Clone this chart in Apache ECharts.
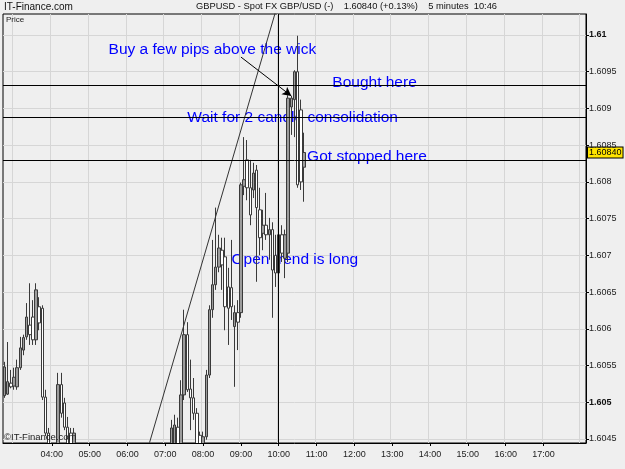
<!DOCTYPE html>
<html>
<head>
<meta charset="utf-8">
<title>GBPUSD 5 minutes</title>
<script src="https://cdn.jsdelivr.net/npm/echarts@6/dist/echarts.min.js"></script>
<style>
    html, body { margin: 0; padding: 0; background: #efefef; }
    #chart { width: 625px; height: 469px; }
</style>
</head>
<body>
<div id="chart"></div>
<script>
// 5 minute bars shown on the axis
const firstBar = '02:45', lastBar = '18:05';

// hour labels printed under the chart
const hourLabels = ['04:00', '05:00', '06:00', '07:00', '08:00', '09:00', '10:00',
    '11:00', '12:00', '13:00', '14:00', '15:00', '16:00', '17:00'];

// price ticks on the right, the bold ones are the round numbers
const priceTicks = ['1.6045', '1.605', '1.6055', '1.606', '1.6065', '1.607',
    '1.6075', '1.608', '1.6085', '1.609', '1.6095', '1.61'];
const boldTicks = ['1.605', '1.61'];
const priceMin = 1.604445, priceMax = 1.610286;

// [open, close, low, high] - early session, starts 02:45
const morningStart = '02:45';
const morningBars = [
    [1.60509, 1.60548, 1.60506, 1.60555],
    [1.60511, 1.60528, 1.60510, 1.60582],
    [1.60526, 1.60521, 1.60519, 1.60544],
    [1.60522, 1.60534, 1.60517, 1.60547],
    [1.60521, 1.60547, 1.60517, 1.60558],
    [1.60547, 1.60574, 1.60544, 1.60589],
    [1.60571, 1.60588, 1.60564, 1.60592],
    [1.60589, 1.60616, 1.60585, 1.60635],
    [1.60605, 1.60592, 1.60578, 1.60662],
    [1.60616, 1.60585, 1.60578, 1.60639],
    [1.60585, 1.60653, 1.60578, 1.60662],
    [1.60630, 1.60608, 1.60598, 1.60643],
    [1.60628, 1.60507, 1.60503, 1.60632],
    [1.60507, 1.60458, 1.60454, 1.60517],
    [1.60458, 1.60421, 1.60408, 1.60465],
    [1.60421, 1.60394, 1.60381, 1.60435],
    [1.60394, 1.60421, 1.60381, 1.60439],
    [1.60421, 1.60524, 1.60415, 1.60540],
    [1.60524, 1.60485, 1.60479, 1.60540],
    [1.60499, 1.60466, 1.60462, 1.60506],
    [1.60466, 1.60428, 1.60421, 1.60480],
    [1.60458, 1.60421, 1.60415, 1.60465],
    [1.60421, 1.60458, 1.60415, 1.60465]
];

// [open, close, low, high] - london open, starts 07:10
const sessionStart = '07:10';
const sessionBars = [
    [1.60408, 1.60465, 1.60394, 1.60476],
    [1.60408, 1.60469, 1.60394, 1.60483],
    [1.60466, 1.60428, 1.60415, 1.60479],
    [1.60428, 1.60510, 1.60421, 1.60530],
    [1.60510, 1.60592, 1.60503, 1.60626],
    [1.60592, 1.60517, 1.60514, 1.60609],
    [1.60518, 1.60506, 1.60462, 1.60558],
    [1.60506, 1.60485, 1.60476, 1.60533],
    [1.60485, 1.60428, 1.60415, 1.60492],
    [1.60455, 1.60435, 1.60421, 1.60460],
    [1.60428, 1.60453, 1.60421, 1.60460],
    [1.60453, 1.60537, 1.60449, 1.60544],
    [1.60537, 1.60626, 1.60533, 1.60632],
    [1.60626, 1.60660, 1.60615, 1.60721],
    [1.60660, 1.60684, 1.60653, 1.60765],
    [1.60684, 1.60710, 1.60677, 1.60728],
    [1.60707, 1.60687, 1.60653, 1.60724],
    [1.60698, 1.60630, 1.60598, 1.60724],
    [1.60657, 1.60628, 1.60578, 1.60683],
    [1.60656, 1.60630, 1.60612, 1.60721],
    [1.60603, 1.60622, 1.60521, 1.60632],
    [1.60622, 1.60609, 1.60571, 1.60639],
    [1.60622, 1.60796, 1.60615, 1.60799],
    [1.60794, 1.60803, 1.60782, 1.60861],
    [1.60830, 1.60792, 1.60775, 1.60857],
    [1.60792, 1.60755, 1.60741, 1.60830],
    [1.60789, 1.60812, 1.60778, 1.60826],
    [1.60816, 1.60765, 1.60664, 1.60823],
    [1.60762, 1.60724, 1.60700, 1.60792],
    [1.60730, 1.60741, 1.60707, 1.60762],
    [1.60741, 1.60728, 1.60721, 1.60785],
    [1.60728, 1.60735, 1.60694, 1.60751],
    [1.60735, 1.60680, 1.60615, 1.60745],
    [1.60700, 1.60676, 1.60657, 1.60728],
    [1.60676, 1.60728, 1.60666, 1.60737],
    [1.60728, 1.60703, 1.60691, 1.60741],
    [1.60696, 1.60728, 1.60669, 1.60735],
    [1.60703, 1.60914, 1.60691, 1.60918],
    [1.60902, 1.60914, 1.60864, 1.60917],
    [1.60912, 1.60950, 1.60861, 1.60952],
    [1.60950, 1.60796, 1.60792, 1.60999],
    [1.60898, 1.60800, 1.60789, 1.60912],
    [1.60820, 1.60840, 1.60773, 1.60867]
];

// drawn on the chart by hand
const levelLines = [1.60931, 1.60888, 1.60830];
const entryTime = '10:00';
const trendFrom = ['06:35', 1.60445], trendTo = ['09:55', 1.61032];
const arrowFrom = ['09:00', 1.60970], arrowTo = ['10:20', 1.60917];
const lastPrice = 1.60840;

const noteTexts = ['Buy a few pips above the wick', 'Bought here', 'Wait for 2 candle consolidation',
    'Got stopped here', 'Open trend is long'];
const noteTimes = ['05:30', '11:25', '07:35', '10:45', '08:45'];
const notePrices = [1.60980, 1.60935, 1.60887, 1.60834, 1.60694];

const sans = '"Liberation Sans", Arial, sans-serif';
const bg = '#efefef';

function buildTimes(from, to) {
    const out = [];
    let [h, m] = from.split(':').map(Number);
    const [eh, em] = to.split(':').map(Number);
    while (h < eh || (h === eh && m <= em)) {
        out.push(String(h).padStart(2, '0') + ':' + String(m).padStart(2, '0'));
        m += 5;
        if (m >= 60) { m -= 60; h++; }
    }
    return out;
}

const times = buildTimes(firstBar, lastBar);

function toRows(bars, start) {
    const i0 = times.indexOf(start);
    return bars.map((b, k) => [times[i0 + k]].concat(b));
}
const barRows = toRows(morningBars, morningStart).concat(toRows(sessionBars, sessionStart));

const chart = echarts.init(document.getElementById('chart'));
const gridBox = { left: 3, right: 39, top: 14, bottom: 26 };
const isHourLabel = (i, v) => hourLabels.includes(v);

const option = {
    backgroundColor: bg,
    animation: false,
    title: [
        { text: 'IT-Finance.com', left: 4, top: 2, padding: 0,
            textStyle: { fontSize: 10, fontWeight: 'normal', color: '#111', fontFamily: sans } },
        { text: 'GBPUSD - Spot FX GBP/USD (-)    1.60840 (+0.13%)    5 minutes  10:46', left: 196, top: 2, padding: 0,
            textStyle: { fontSize: 9.3, fontWeight: 'normal', color: '#111', fontFamily: sans } },
        { text: 'Price', left: 6, top: 16, padding: 0,
            textStyle: { fontSize: 8, fontWeight: 'normal', color: '#222', fontFamily: sans } },
        { text: '©IT-Finance.com', left: 4, top: 432, padding: 0, z: 20,
            textStyle: { fontSize: 9.5, fontWeight: 'normal', color: '#222', fontFamily: sans } }
    ],
    grid: Object.assign({ show: true, borderColor: '#000', borderWidth: 1, backgroundColor: 'transparent' }, gridBox),
    // axis 0: grid lines under everything, axis 1: line, ticks and labels on top
    xAxis: [
        {
            type: 'category', data: times, boundaryGap: true, z: 0,
            axisLine: { show: false }, axisTick: { show: false }, axisLabel: { show: false },
            splitLine: { show: true, interval: (i, v) => v.endsWith(':00'), lineStyle: { color: '#d6d6d6' } }
        },
        {
            type: 'category', data: times, boundaryGap: true, position: 'bottom', z: 10,
            axisLine: { show: true, lineStyle: { color: '#000' } },
            axisTick: { show: true, length: 3, alignWithLabel: true, interval: isHourLabel, lineStyle: { color: '#000' } },
            axisLabel: { interval: isHourLabel, margin: 7, fontSize: 9, color: '#222', fontFamily: sans },
            splitLine: { show: false }
        }
    ],
    yAxis: [
        {
            type: 'value', position: 'right', min: priceMin, max: priceMax, z: 0,
            axisLine: { show: false },
            axisTick: { show: false, customValues: priceTicks.map(Number) },
            axisLabel: { show: false, customValues: priceTicks.map(Number) },
            splitLine: { show: true, lineStyle: { color: '#d6d6d6' } }
        },
        {
            type: 'value', position: 'right', min: priceMin, max: priceMax, z: 10,
            axisLine: { show: true, lineStyle: { color: '#000' } },
            axisTick: { show: true, length: 3, customValues: priceTicks.map(Number), lineStyle: { color: '#000' } },
            axisLabel: {
                customValues: priceTicks.map(Number),
                margin: 3, fontSize: 9, color: '#222', fontFamily: sans,
                formatter: (v) => {
                    const t = priceTicks.find(s => Math.abs(Number(s) - v) < 1e-7) || String(v);
                    return boldTicks.includes(t) ? '{b|' + t + '}' : t;
                },
                rich: { b: { fontWeight: 'bold', fontSize: 9, color: '#111', fontFamily: sans } }
            },
            splitLine: { show: false }
        }
    ],
    series: [
        {
            type: 'candlestick',
            data: barRows,
            encode: { x: 0, y: [1, 2, 3, 4] },
            barWidth: 3,
            clip: true,
            itemStyle: {
                color: '#9c9c9c',
                color0: '#ffffff',
                borderColor: '#3a3a3a',
                borderColor0: '#3a3a3a',
                borderWidth: 1
            }
        },
        {
            type: 'line',
            data: [trendFrom, trendTo],
            symbol: 'none',
            clip: true,
            silent: true,
            lineStyle: { color: '#333', width: 1 },
            markLine: {
                silent: true,
                symbol: 'none',
                precision: 6,
                label: { show: false },
                lineStyle: { color: '#000', width: 1, type: 'solid' },
                data: levelLines.map(v => ({ yAxis: v }))
                    .concat([
                        { xAxis: entryTime },
                        [
                            { coord: arrowFrom, symbol: 'none' },
                            { coord: arrowTo, symbol: 'arrow', symbolSize: [7, 9] }
                        ],
                        {
                            // last price tag on the price axis
                            yAxis: lastPrice,
                            lineStyle: { color: 'rgba(0,0,0,0)' },
                            label: {
                                show: true, position: 'end', distance: 2, opacity: 1,
                                formatter: lastPrice.toFixed(5),
                                backgroundColor: '#ffe400', borderColor: '#000', borderWidth: 1,
                                padding: [1, 1, 0, 1], color: '#000', fontSize: 9, fontFamily: sans
                            }
                        }
                    ])
            }
        }
    ]
};

chart.setOption(option);

// notes placed at their time / price (under the bars), plus a strip hiding bars that run under the time axis
const plotBottom = 469 - gridBox.bottom;
chart.setOption({
    graphic: [{
        type: 'rect', silent: true, z: 5,
        shape: { x: 0, y: plotBottom + 0.5, width: 625, height: gridBox.bottom },
        style: { fill: bg }
    }].concat(noteTexts.map((text, i) => {
        const [x, y] = chart.convertToPixel({ gridIndex: 0 }, [noteTimes[i], notePrices[i]]);
        return {
            type: 'text', x: x, y: y, silent: true, z: 1,
            style: { text: text, fill: '#0000ff', font: '15.5px ' + sans, verticalAlign: 'middle' }
        };
    }))
});
</script>
</body>
</html>
